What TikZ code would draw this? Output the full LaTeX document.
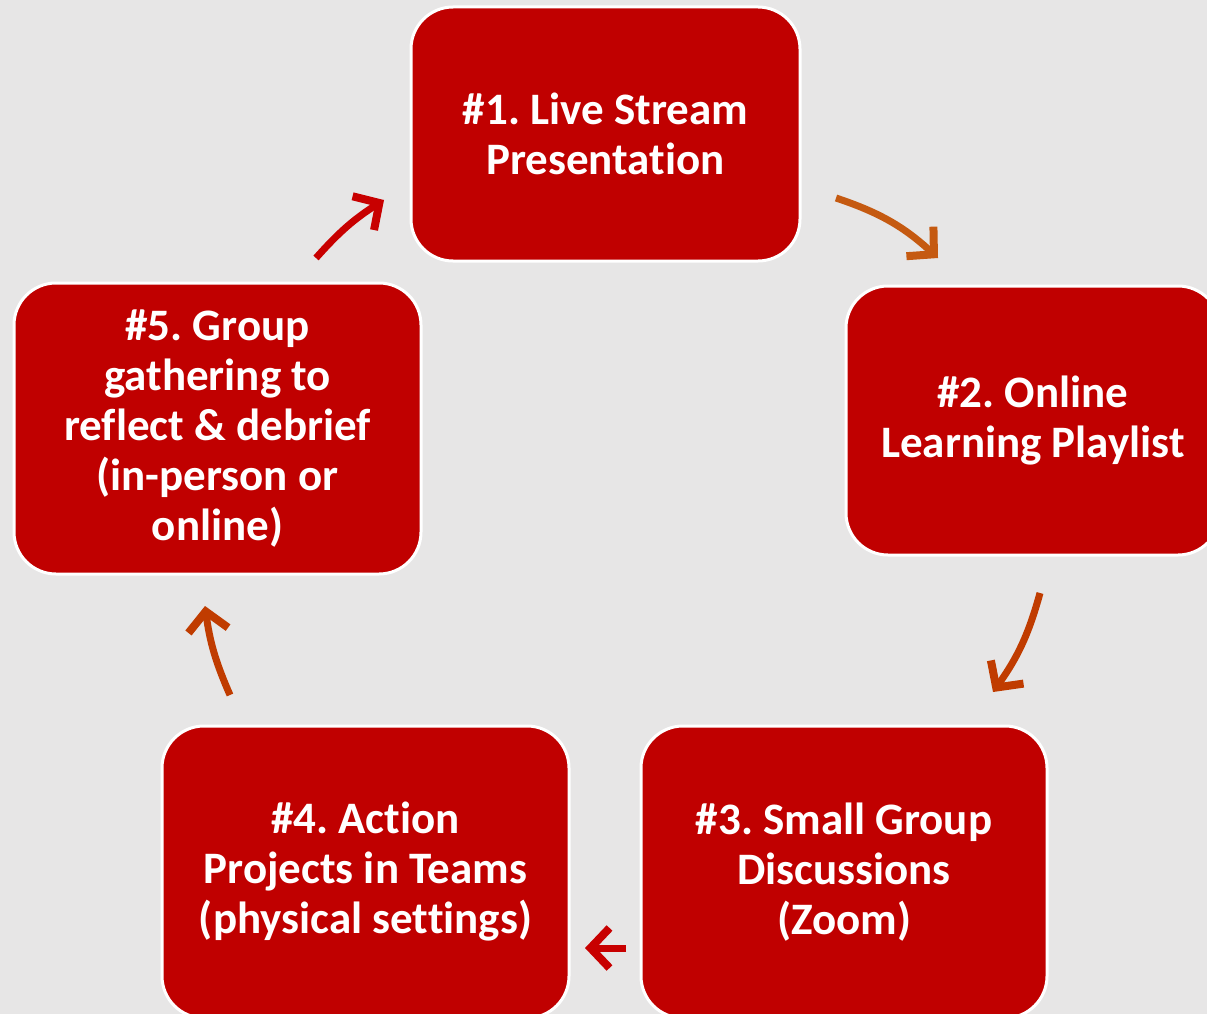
\documentclass[tikz,border=0pt]{standalone}
\usepackage{fontspec}
\setmainfont{Carlito}[Ligatures=NoCommon]
\usetikzlibrary{arrows.meta}
\definecolor{bg}{HTML}{E7E6E6}
\definecolor{boxred}{HTML}{C00000}
\definecolor{arrorange}{HTML}{C55A11}
\definecolor{arrrust}{HTML}{C03C00}
\definecolor{arrred}{HTML}{C80000}
\tikzset{
  stagebox/.style={draw=white, line width=3pt, fill=boxred, rounded corners=42pt,
    text=white, font=\bfseries\fontsize{45}{50}\selectfont, align=center, inner sep=0pt},
  cyclearrow/.style={line width=7pt, -{Straight Barb[length=19pt,width=40pt,line width=8pt]}},
}
\begin{document}
\frenchspacing
\begin{tikzpicture}[x=1pt,y=1pt]
\useasboundingbox (0,0) rectangle (1207,-1014);
\clip (0,0) rectangle (1207,-1014);
\fill[bg] (0,0) rectangle (1207,-1014);
\node[stagebox, minimum width=389pt, minimum height=254pt] (s1) at (605.5,-134) {\#1. Live Stream\\Presentation};
\node[stagebox, minimum width=374pt, minimum height=269pt] (s2) at (1033,-420.5) {\#2. Online\\Learning Playlist};
\node[stagebox, minimum width=406pt, minimum height=292pt] (s3) at (844,-872) {\#3. Small Group\\Discussions\\(Zoom)};
\node[stagebox, minimum width=407pt, minimum height=292pt] (s4) at (365.5,-872) {\#4. Action\\Projects in Teams\\(physical settings)};
\node[stagebox, minimum width=407pt, minimum height=291pt] (s5) at (217.5,-428.5) {\#5. Group\\gathering to\\reflect \& debrief\\(in-person or\\online)};
\coordinate (a1s) at (836,-198); \coordinate (a1e) at (938,-258);
\coordinate (a2s) at (1040,-593); \coordinate (a2e) at (993,-692);
\coordinate (a3s) at (626,-948); \coordinate (a3e) at (585,-948);
\coordinate (a4s) at (230,-695); \coordinate (a4e) at (205,-606);
\coordinate (a5s) at (316,-258); \coordinate (a5e) at (384,-200);
\draw[cyclearrow, arrorange] (a1s) to[bend left=12] (a1e);
\draw[cyclearrow, arrrust] (a2s) to[bend left=10] (a2e);
\draw[cyclearrow, arrred] (a3s) -- (a3e);
\draw[cyclearrow, arrrust] (a4s) to[bend left=8] (a4e);
\draw[cyclearrow, arrred] (a5s) to[bend left=8] (a5e);
\end{tikzpicture}
\end{document}
